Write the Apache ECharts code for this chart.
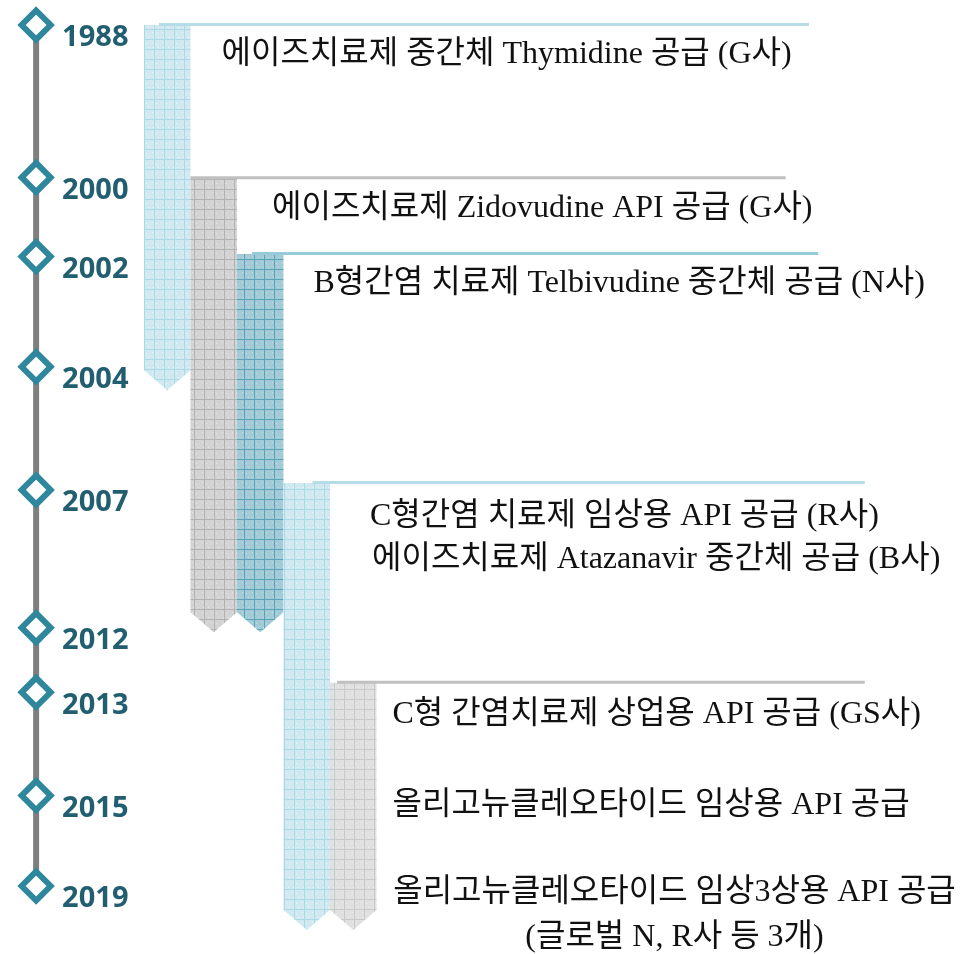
<!DOCTYPE html>
<html>
<head>
<meta charset="utf-8">
<script src="https://cdn.jsdelivr.net/npm/echarts@6/dist/echarts.min.js"></script>
<style>
  html, body { margin: 0; padding: 0; background: #fff; }
  #main { width: 973px; height: 954px; }
</style>
</head>
<body>
<div id="main"></div>
<script>
// 연혁 (timeline stops, 0 = 1988 ... 100 = 2019)
var years = ['1988', '2000', '2002', '2004', '2007', '2012', '2013', '2015', '2019'];
var yearStops = [0, 17.7, 26.9, 39.7, 54.0, 70.0, 77.5, 89.5, 100];

// 공급 기간 띠 (lane, start stop, end stop)
var ribbonLane = [0, 1, 2, 3, 4];
var ribbonFrom = [0, 17.8, 26.6, 53.2, 76.4];
var ribbonTo = [40.1, 68.2, 68.2, 102.8, 102.8];

// 공급 내역
var eventText = [
  '에이즈치료제 중간체 Thymidine 공급 (G사)',
  '에이즈치료제 Zidovudine API 공급 (G사)',
  'B형간염 치료제 Telbivudine 중간체 공급 (N사)',
  'C형간염 치료제 임상용 API 공급 (R사)',
  '에이즈치료제 Atazanavir 중간체 공급 (B사)',
  'C형 간염치료제 상업용 API 공급 (GS사)',
  '올리고뉴클레오타이드 임상용 API 공급',
  '올리고뉴클레오타이드 임상3상용 API 공급\n(글로벌 N, R사 등 3개)'
];
var eventLane = [0, 1, 2, 3, 3, 4, 4, 4];
var eventStops = [3.4, 21.3, 30.0, 57.1, 62.1, 80.1, 90.7, 103.4];

// ---- 스타일 / 레이아웃 ----
var axisLane = -2.32;          // 세로 연혁선 위치 (lane 단위)
var ruleEnd = [14.3, 13.8, 14.5, 15.5, 15.5];   // 띠 위 가로선 끝 (lane 단위)
var ruleInset = [15, 0, 15, 29, 7];
var eventIndent = [31, 35, 30, 40, 42, 16, 16, 298];
var eventAlign = ['left', 'left', 'left', 'left', 'left', 'left', 'left', 'center'];

var ribbonSkin = [
  { bg: '#d0e9f1', grid: '#acd9e6', speck: '#eaf6fa', rule: '#b6dce7' },
  { bg: '#d3d3d3', grid: '#b2b2b2', speck: '#e6e6e6', rule: '#c0c0c0' },
  { bg: '#a3cbd7', grid: '#5aa4b8', speck: '#c0dde6', rule: '#98cbda' },
  { bg: '#d0e9f1', grid: '#acd9e6', speck: '#eaf6fa', rule: '#b6dce7' },
  { bg: '#e0e0e0', grid: '#c9c9c9', speck: '#eeeeee', rule: '#c0c0c0' }
];

function makeTile(skin) {
  var c = document.createElement('canvas');
  c.width = 10; c.height = 10;
  var g = c.getContext('2d');
  g.fillStyle = skin.bg;
  g.fillRect(0, 0, 10, 10);
  g.fillStyle = skin.speck;
  var pts = [[2, 2], [6, 3], [8, 7], [3, 7]];
  pts.forEach(function (p) { g.fillRect(p[0], p[1], 1, 1); });
  g.fillStyle = skin.grid;
  g.fillRect(0, 9, 10, 1);
  g.fillRect(4, 0, 1, 10);
  return c;
}
var tiles = ribbonSkin.map(makeTile);

var ribbonData = ribbonLane.map(function (l, i) { return [l, ribbonFrom[i], ribbonTo[i]]; });
var yearData = years.map(function (y, i) { return [axisLane, yearStops[i], y]; });
var eventData = eventText.map(function (t, i) { return [eventLane[i], eventStops[i], t]; });

var chartDom = document.getElementById('main');
var myChart = echarts.init(chartDom, null, { renderer: 'canvas' });
var option;

option = {
  animation: false,
  grid: { left: 4.5, right: 38.5, top: 25, bottom: 68 },
  xAxis: { type: 'value', min: -3, max: 17, show: false },
  yAxis: { type: 'value', min: 0, max: 100, inverse: true, show: false },
  series: [
    {
      // 세로 연혁선
      type: 'custom',
      z: 1,
      data: [[axisLane, yearStops[0], yearStops[yearStops.length - 1]]],
      renderItem: function (params, api) {
        var a = api.coord([api.value(0), api.value(1)]);
        var b = api.coord([api.value(0), api.value(2)]);
        return {
          type: 'line',
          shape: { x1: a[0], y1: a[1], x2: b[0], y2: b[1] },
          style: { stroke: '#7f7f7f', lineWidth: 6 }
        };
      }
    },
    {
      // 연도 마름모 + 라벨
      type: 'custom',
      z: 2,
      data: yearData,
      renderItem: function (params, api) {
        var p = api.coord([api.value(0), api.value(1)]);
        var h = 14.5;
        return {
          type: 'group',
          children: [
            {
              type: 'polygon',
              shape: { points: [[p[0], p[1] - h], [p[0] + h, p[1]], [p[0], p[1] + h], [p[0] - h, p[1]]] },
              style: { fill: '#ffffff', stroke: '#2e879c', lineWidth: 6, lineJoin: 'miter' }
            },
            {
              type: 'text',
              x: p[0] + 26,
              y: p[1] + 13,
              style: {
                text: yearData[params.dataIndex][2],
                fill: '#215f70',
                fontFamily: 'Noto Sans',
                fontWeight: 'bold',
                fontSize: 29,
                align: 'left',
                verticalAlign: 'middle'
              }
            }
          ]
        };
      }
    },
    {
      // 공급 기간 띠
      type: 'custom',
      z: 3,
      data: ribbonData,
      renderItem: function (params, api) {
        var i = params.dataIndex;
        var lane = api.value(0);
        var tl = api.coord([lane, api.value(1)]);
        var br = api.coord([lane + 1, api.value(2)]);
        var re = api.coord([ruleEnd[i], api.value(1)]);
        var w = br[0] - tl[0];
        return {
          type: 'group',
          children: [
            {
              type: 'polygon',
              shape: {
                points: [[tl[0], tl[1]], [br[0], tl[1]], [br[0], br[1]],
                  [tl[0] + w / 2, br[1] + 20], [tl[0], br[1]]]
              },
              style: { fill: { image: tiles[i], repeat: 'repeat' } }
            },
            {
              type: 'line',
              shape: { x1: tl[0] + ruleInset[i], y1: tl[1] - 0.5, x2: re[0], y2: tl[1] - 0.5 },
              style: { stroke: ribbonSkin[i].rule, lineWidth: 3 }
            }
          ]
        };
      }
    },
    {
      // 공급 내역 텍스트
      type: 'custom',
      z: 4,
      data: eventData,
      renderItem: function (params, api) {
        var i = params.dataIndex;
        var p = api.coord([api.value(0) + 1, api.value(1)]);
        return {
          type: 'text',
          x: p[0] + eventIndent[i],
          y: p[1],
          style: {
            text: eventData[i][2],
            fill: '#111111',
            font: "32px 'Liberation Serif', 'Noto Sans CJK KR'",
            align: eventAlign[i],
            verticalAlign: 'middle',
            lineHeight: 45
          }
        };
      }
    }
  ]
};

option && myChart.setOption(option);
</script>
</body>
</html>
